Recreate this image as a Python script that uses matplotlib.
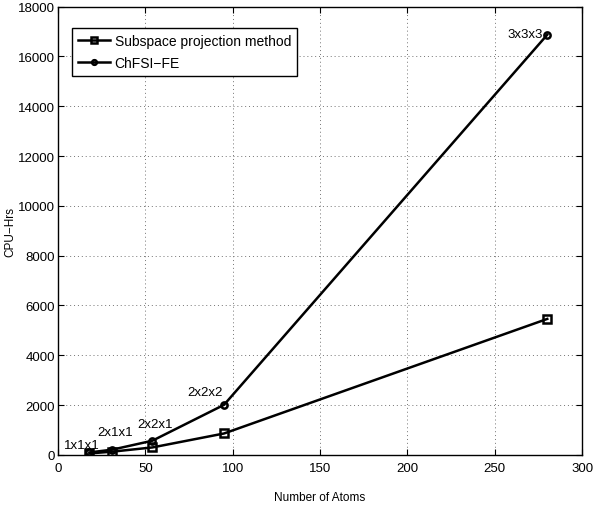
import matplotlib
matplotlib.use('Agg')
import matplotlib.pyplot as plt

plt.rcParams['font.family'] = ['Liberation Sans', 'DejaVu Sans']

# Data
atoms = [18, 31, 54, 95, 280]
subspace_hrs = [60, 130, 300, 860, 5460]
chfsi_hrs = [100, 210, 570, 2010, 16870]
cell_labels = ['1x1x1', '2x1x1', '2x2x1', '2x2x2', '3x3x3']

fig = plt.figure(figsize=(5.95, 5.06), dpi=100)
ax = fig.add_axes([0.0975, 0.099, 0.881, 0.886])

ax.plot(atoms, subspace_hrs, 'ks-', lw=1.8, ms=5.5, mfc='none', mew=1.8,
        label='Subspace projection method')
ax.plot(atoms, chfsi_hrs, 'ko-', lw=1.8, ms=4.5, mfc='none', mew=1.8,
        label='ChFSI\u2212FE')

# cell size labels next to the ChFSI points
offsets = [(-14.6, 300), (-8.7, 710), (-8.8, 680), (-21.2, 520), (-23, 30)]
for x, y, lab, (dx, dy) in zip(atoms, chfsi_hrs, cell_labels, offsets):
    ax.text(x + dx, y + dy, lab, fontsize=9.5, ha='left', va='center')

ax.set_xlim(0, 300)
ax.set_ylim(0, 18000)
ax.set_xticks(range(0, 301, 50))
ax.set_yticks(range(0, 18001, 2000))
ax.tick_params(direction='in', labelsize=9.5, length=4, pad=2,
               top=True, right=True)
ax.tick_params(axis='x', pad=5)
ax.grid(True, linestyle=(0, (1, 3)), color='0.45', lw=0.7)
for s in ax.spines.values():
    s.set_linewidth(1.0)

ax.set_xlabel('Number of Atoms', fontsize=8.5, labelpad=12)
ax.set_ylabel('CPU\u2212Hrs', fontsize=8.5, labelpad=1)

leg = ax.legend(loc='upper left', fontsize=10, fancybox=False, edgecolor='k',
                framealpha=1, handlelength=2.3, handletextpad=0.3,
                borderpad=0.45, labelspacing=0.55, borderaxespad=0,
                markerscale=0.75, bbox_to_anchor=(0.027, 0.953))
leg.get_frame().set_linewidth(1.0)

plt.savefig('out.png', dpi=100)
